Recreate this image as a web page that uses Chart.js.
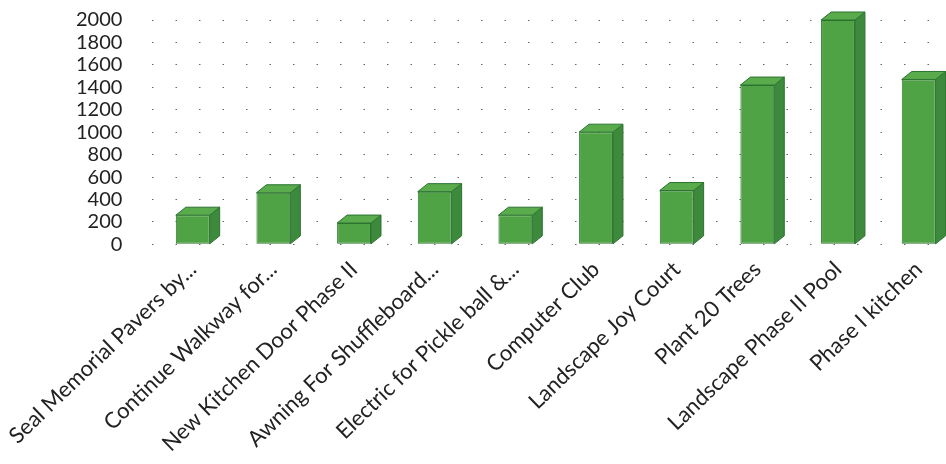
<!DOCTYPE html>
<html>
<head>
<meta charset="utf-8">
<script src="https://cdn.jsdelivr.net/npm/chart.js@4"></script>
<style>
  html, body { margin: 0; padding: 0; background: #fff; overflow: hidden; }
  /* chart is a bit wider and taller than the window, the scan crops it the same way */
  #wrap { position: relative; top: -22px; width: 970px; height: 486px; }
</style>
</head>
<body>
<div id="wrap"><canvas id="projects"></canvas></div>
<script>
const projects = [
    'Seal Memorial Pavers by...',
    'Continue Walkway for...',
    'New Kitchen Door Phase II',
    'Awning For Shuffleboard...',
    'Electric for Pickle ball &...',
    'Computer Club',
    'Landscape Joy Court',
    'Plant 20 Trees',
    'Landscape Phase II Pool',
    'Phase I kitchen'
];
const costs = [260, 460, 190, 470, 260, 1000, 480, 1420, 2000, 1470];

const yMin = 0;
const yMax = 2000;
const yStep = 200;

// fake 3D: top and side faces drawn on top of each bar
const depthX = 10;
const depthY = 8;

const boxFaces = {
    id: 'boxFaces',
    afterDatasetsDraw(chart) {
        const ctx = chart.ctx;
        const meta = chart.getDatasetMeta(0);
        meta.data.forEach(bar => {
            const { x, y, base, width } = bar.getProps(['x', 'y', 'base', 'width'], true);
            const left = x - width / 2;
            const right = x + width / 2;
            ctx.save();
            ctx.lineWidth = 1;
            ctx.strokeStyle = '#2b7331';
            ctx.lineJoin = 'round';

            // side
            ctx.beginPath();
            ctx.moveTo(right, y);
            ctx.lineTo(right + depthX, y - depthY);
            ctx.lineTo(right + depthX, base - depthY);
            ctx.lineTo(right, base);
            ctx.closePath();
            ctx.fillStyle = '#3d8a3c';
            ctx.fill();
            ctx.stroke();

            // top
            ctx.beginPath();
            ctx.moveTo(left, y);
            ctx.lineTo(left + depthX, y - depthY);
            ctx.lineTo(right + depthX, y - depthY);
            ctx.lineTo(right, y);
            ctx.closePath();
            ctx.fillStyle = '#5aab4b';
            ctx.fill();
            ctx.stroke();
            ctx.restore();
        });
    }
};

Chart.defaults.font.family = 'Lato, "Open Sans", sans-serif';
Chart.defaults.color = '#222';

new Chart('projects', {
    type: 'bar',
    data: {
        labels: projects,
        datasets: [{
            data: costs,
            backgroundColor: function(context) {
                const el = context.element;
                if (!el || !Number.isFinite(el.x) || !Number.isFinite(el.width)) return '#50a345';
                const g = context.chart.ctx.createLinearGradient(el.x - el.width / 2, 0, el.x + el.width / 2, 0);
                g.addColorStop(0, '#5aaf4a');
                g.addColorStop(1, '#479a42');
                return g;
            },
            borderColor: '#2b7331',
            borderWidth: 1,
            borderSkipped: false,
            barPercentage: 0.42,
            categoryPercentage: 1
        }]
    },
    options: {
        responsive: true,
        maintainAspectRatio: false,
        animation: false,
        layout: {
            padding: { left: 46, right: 11, top: 0, bottom: 3 }
        },
        plugins: {
            legend: { display: false },
            tooltip: { enabled: false }
        },
        scales: {
            x: {
                grid: { display: false },
                border: { display: false },
                ticks: {
                    font: { size: 22 },
                    minRotation: 44,
                    maxRotation: 44,
                    autoSkip: false,
                    padding: 4
                },
                // let the y axis alone decide where the plot starts
                afterFit(scale) {
                    scale.paddingLeft = 0;
                    scale.paddingRight = 0;
                }
            },
            y: {
                min: yMin,
                max: yMax,
                border: { display: false, dash: [1.5, 22] },
                grid: {
                    color: '#666',
                    lineWidth: 1,
                    drawTicks: false
                },
                ticks: {
                    stepSize: yStep,
                    autoSkip: false,
                    font: { size: 20 },
                    padding: 30,
                    callback: value => value
                }
            }
        }
    },
    plugins: [boxFaces]
});
</script>
</body>
</html>
